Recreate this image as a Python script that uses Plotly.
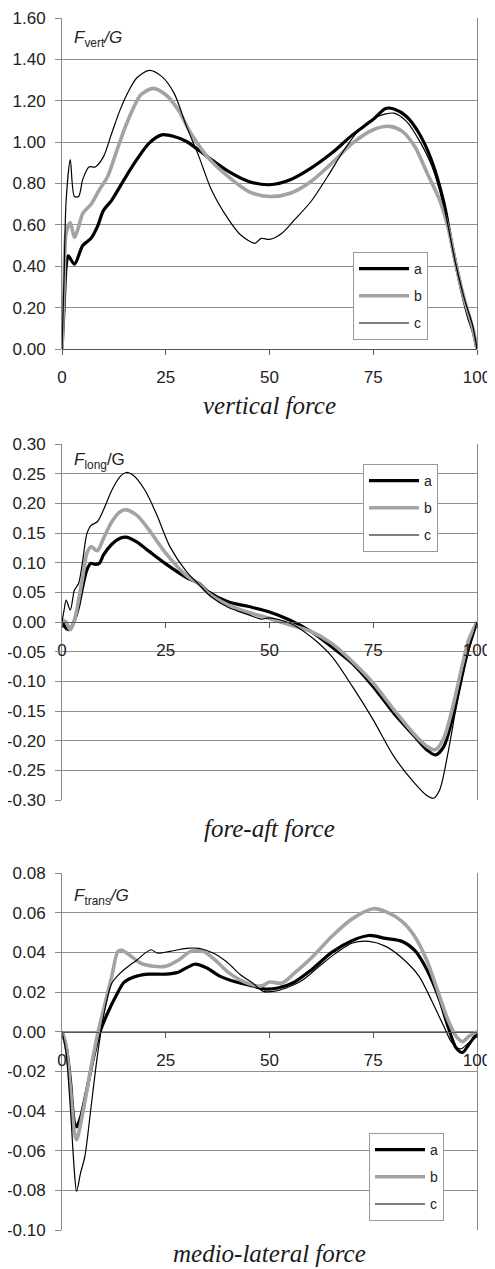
import plotly.graph_objects as go

# ---------------- data ----------------
x_ticks = [0, 25, 50, 75, 100]
x_tick_labels = ["0", "25", "50", "75", "100"]

# vertical force
vert_x_a = [0, 0.5, 1, 1.5, 3, 5, 7, 8.5, 10, 12, 15, 18, 21, 24, 27, 30, 35, 40, 45, 50, 55, 60, 65, 70, 75, 78, 80, 83, 86, 89, 92, 94, 96, 98, 99, 100]
vert_a = [0, 0.2, 0.40, 0.45, 0.41, 0.50, 0.535, 0.59, 0.67, 0.72, 0.82, 0.915, 0.995, 1.035, 1.027, 1.003, 0.93, 0.86, 0.81, 0.794, 0.818, 0.874, 0.947, 1.035, 1.11, 1.163, 1.16, 1.124, 1.044, 0.915, 0.71, 0.50, 0.31, 0.15, 0.09, 0]
vert_x_b = [0, 0.5, 1, 2, 3, 4, 5, 7, 9, 11, 13, 15, 17, 19, 22, 25, 28, 31, 35, 40, 45, 50, 55, 60, 65, 70, 75, 79, 82, 85, 88, 91, 93, 95, 97, 99, 100]
vert_b = [0, 0.3, 0.56, 0.61, 0.54, 0.59, 0.656, 0.70, 0.77, 0.834, 0.947, 1.06, 1.156, 1.229, 1.26, 1.229, 1.156, 1.044, 0.93, 0.834, 0.761, 0.737, 0.753, 0.81, 0.898, 0.995, 1.06, 1.076, 1.052, 0.979, 0.85, 0.72, 0.59, 0.40, 0.237, 0.1, 0]
vert_x_c = [0, 0.5, 1, 2, 3, 4, 5, 6.5, 8, 10, 12, 14, 16, 18, 21, 24, 27, 30, 33, 36, 40, 43, 46.5, 48, 50, 53, 56, 60, 64, 68, 72, 76, 80, 83, 86, 89, 92, 95, 97, 99, 100]
vert_c = [0, 0.35, 0.72, 0.915, 0.737, 0.737, 0.82, 0.88, 0.88, 0.93, 1.044, 1.156, 1.245, 1.31, 1.347, 1.318, 1.237, 1.076, 0.93, 0.77, 0.63, 0.552, 0.511, 0.535, 0.53, 0.56, 0.624, 0.713, 0.834, 0.963, 1.068, 1.124, 1.14, 1.10, 1.011, 0.89, 0.69, 0.40, 0.24, 0.11, 0]

# fore-aft force
long_x_a = [0, 1, 2, 3, 4, 5, 6, 7, 8, 9, 10, 12, 14, 15.5, 18, 21, 25, 30, 33, 35, 40, 45, 50, 55, 60, 65, 70, 75, 80, 85, 88, 90, 92, 94, 96, 98, 100]
long_a = [0.003, -0.011, -0.012, 0.003, 0.026, 0.06, 0.088, 0.099, 0.097, 0.099, 0.113, 0.131, 0.141, 0.143, 0.135, 0.119, 0.098, 0.075, 0.065, 0.052, 0.034, 0.026, 0.017, 0.003, -0.016, -0.042, -0.07, -0.109, -0.154, -0.193, -0.216, -0.224, -0.21, -0.165, -0.103, -0.042, 0]
long_x_b = [0, 1, 2, 3, 4, 5, 6, 7, 8.5, 10, 12, 14, 15.5, 18, 21, 25, 30, 33, 35, 40, 45, 50, 55, 60, 65, 70, 75, 80, 85, 88, 90, 92, 94, 96, 98, 100]
long_b = [0.003, 0, -0.013, 0.003, 0.037, 0.076, 0.116, 0.127, 0.12, 0.141, 0.169, 0.186, 0.189, 0.18, 0.155, 0.116, 0.078, 0.064, 0.05, 0.029, 0.016, 0.006, -0.005, -0.016, -0.036, -0.067, -0.103, -0.148, -0.19, -0.21, -0.215, -0.196, -0.148, -0.087, -0.03, 0]
long_x_c = [0, 0.5, 1, 2, 3, 4, 5, 6, 7, 8.5, 10, 12, 14, 15.5, 17, 20, 23, 26, 30, 33, 36, 40, 45, 48, 50, 55, 60, 65, 70, 75, 80, 85, 88, 89.5, 91, 93, 95, 97, 99, 100]
long_c = [0, 0.02, 0.037, 0.02, 0.054, 0.065, 0.104, 0.149, 0.163, 0.169, 0.189, 0.222, 0.245, 0.252, 0.248, 0.222, 0.178, 0.127, 0.085, 0.063, 0.042, 0.025, 0.012, 0.005, 0.007, -0.002, -0.025, -0.058, -0.109, -0.165, -0.227, -0.272, -0.293, -0.297, -0.283, -0.221, -0.143, -0.075, -0.025, 0]

# medio-lateral force
trans_x_a = [0, 1, 2, 3, 3.5, 4.5, 6, 7.5, 9, 11, 13, 15, 18, 21, 25, 28, 32, 35, 38, 42, 46, 49, 52, 56, 60, 65, 70, 74, 78, 82, 85, 88, 91, 93, 95, 96.5, 98, 100]
trans_a = [0, -0.0074, -0.024, -0.046, -0.048, -0.043, -0.029, -0.014, -0.001, 0.0094, 0.018, 0.025, 0.028, 0.029, 0.029, 0.030, 0.034, 0.032, 0.028, 0.025, 0.023, 0.0215, 0.022, 0.025, 0.031, 0.040, 0.046, 0.0485, 0.047, 0.0455, 0.041, 0.031, 0.016, 0.0027, -0.0083, -0.0105, -0.0066, -0.0007]
trans_x_b = [0, 1, 2, 3, 3.5, 5, 7, 8.5, 10, 12, 13.5, 14.5, 16, 19, 22, 25, 28, 31, 34, 37, 40, 44, 48, 50, 53, 56, 60, 65, 70, 75, 78, 82, 85, 88, 91, 93, 95, 96.5, 98, 100]
trans_b = [0, -0.0074, -0.028, -0.051, -0.0545, -0.041, -0.018, -0.002, 0.011, 0.028, 0.0405, 0.041, 0.039, 0.0345, 0.033, 0.033, 0.036, 0.0405, 0.0405, 0.036, 0.030, 0.025, 0.023, 0.025, 0.0245, 0.0295, 0.037, 0.048, 0.057, 0.062, 0.0605, 0.0555, 0.048, 0.0355, 0.0177, 0.006, -0.0024, -0.005, -0.0024, 0]
trans_x_c = [0, 1, 2, 3, 3.5, 4.5, 5.5, 7, 8.5, 10, 12, 14, 16, 18, 20, 21.5, 23, 26, 30, 33, 37, 40, 43, 46, 48.5, 51, 54, 58, 62, 66, 70, 74, 78, 82, 86, 89, 92, 94, 96, 98, 100]
trans_c = [0, -0.011, -0.038, -0.071, -0.0806, -0.071, -0.063, -0.038, -0.0126, 0.0077, 0.0244, 0.0295, 0.033, 0.036, 0.0396, 0.0413, 0.0396, 0.0405, 0.042, 0.042, 0.039, 0.0346, 0.0287, 0.0244, 0.0203, 0.0203, 0.022, 0.026, 0.033, 0.0396, 0.0447, 0.0455, 0.043, 0.037, 0.028, 0.016, 0.0027, -0.0057, -0.0087, -0.0057, -0.0024]

series_names = ["a", "b", "c"]
vert_ticks = [0.0, 0.2, 0.4, 0.6, 0.8, 1.0, 1.2, 1.4, 1.6]
long_ticks = [-0.30, -0.25, -0.20, -0.15, -0.10, -0.05, 0.0, 0.05, 0.10, 0.15, 0.20, 0.25, 0.30]
trans_ticks = [-0.10, -0.08, -0.06, -0.04, -0.02, 0.0, 0.02, 0.04, 0.06, 0.08]
panel_titles = ["vertical force", "fore-aft force", "medio-lateral force"]
panel_labels = ["<i>F</i><sub>vert</sub><i>/G</i>", "<i>F</i><sub>long</sub>/G", "<i>F</i><sub>trans</sub><i>/G</i>"]

# ---------------- layout helpers ----------------
# the page body has an 8px default margin, so the figure is sized to fit the window
OFF = 8
WIN_W, WIN_H = 495, 1269
W, H = WIN_W - OFF, WIN_H - OFF


def px_x(x):
    return (x - OFF) / W


def py(y):
    return 1 - (y - OFF) / H


X0, X1 = px_x(62), px_x(477)
styles = [dict(color="#000000", width=3.2), dict(color="#a3a3a3", width=3.6), dict(color="#000000", width=1.2)]
SANS = "Liberation Sans, Arial, sans-serif"
SERIF = "Liberation Serif, Times New Roman, serif"

panels = [
    dict(xs=[vert_x_a, vert_x_b, vert_x_c], ys=[vert_a, vert_b, vert_c], ticks=vert_ticks,
         top=18, bot=349, title_y=405, label_y=39, legend=(353, 252)),
    dict(xs=[long_x_a, long_x_b, long_x_c], ys=[long_a, long_b, long_c], ticks=long_ticks,
         top=444, bot=800, title_y=828, label_y=461, legend=(363, 464)),
    dict(xs=[trans_x_a, trans_x_b, trans_x_c], ys=[trans_a, trans_b, trans_c], ticks=trans_ticks,
         top=873, bot=1230, title_y=1253, label_y=897, legend=(369, 1133)),
]

fig = go.Figure()
annotations = []
for i, p in enumerate(panels):
    n = i + 1
    sfx = "" if n == 1 else str(n)
    leg = "legend" if n == 1 else f"legend{n}"
    for k in range(3):
        fig.add_trace(go.Scatter(
            x=p["xs"][k], y=p["ys"][k], mode="lines", name=series_names[k],
            line=dict(shape="spline", smoothing=0.8, **styles[k]),
            xaxis="x" + sfx, yaxis="y" + sfx, legend=leg,
            legendgroup=f"{series_names[k]}{n}", showlegend=True,
        ))
    ymin, ymax = min(p["ticks"]), max(p["ticks"])
    d0, d1 = py(p["bot"]), py(p["top"])
    zero_pos = d0 + (0 - ymin) / (ymax - ymin) * (d1 - d0)
    fig.layout["xaxis" + sfx] = dict(
        domain=[X0, X1], range=[0, 100], anchor="free", position=zero_pos,
        tickvals=x_ticks, ticktext=x_tick_labels, ticks="outside", ticklen=5,
        tickcolor="#555", showline=True, linecolor="#555", linewidth=1,
        showgrid=False, zeroline=False, ticklabelstandoff=8, automargin=False,
        tickfont=dict(family=SANS, size=17, color="#222"),
    )
    fig.layout["yaxis" + sfx] = dict(
        domain=[d0, d1], range=[ymin, ymax], anchor="x" + sfx,
        tickvals=p["ticks"], ticktext=[f"{v:.2f}" for v in p["ticks"]],
        ticks="outside", ticklen=6, tickcolor="#888", ticklabelstandoff=6,
        showline=True, mirror=True, linecolor="#8a8a8a", linewidth=1,
        showgrid=True, gridcolor="#8f8f8f", gridwidth=1, zeroline=False, automargin=False,
        tickfont=dict(family=SANS, size=17, color="#222"),
    )
    lx, ly = p["legend"]
    fig.layout[leg] = dict(
        x=px_x(lx), y=py(ly), xanchor="left", yanchor="top",
        bgcolor="white", bordercolor="#999", borderwidth=1,
        font=dict(family=SANS, size=14, color="#222"),
        tracegroupgap=6, itemwidth=50, traceorder="grouped",
    )
    annotations.append(dict(
        text="<i>" + panel_titles[i] + "</i>", x=(X0 + X1) / 2, y=py(p["title_y"]), xref="paper", yref="paper",
        xanchor="center", yanchor="middle", showarrow=False,
        font=dict(family=SERIF, size=25, color="#1a1a1a"),
    ))
    annotations.append(dict(
        text=panel_labels[i], x=px_x(72), y=py(p["label_y"]), xref="paper", yref="paper",
        xanchor="left", yanchor="middle", showarrow=False,
        font=dict(family=SANS, size=17, color="#222"),
    ))

fig.update_layout(
    width=W, height=H, margin=dict(l=0, r=0, t=0, b=0, autoexpand=False),
    paper_bgcolor="white", plot_bgcolor="white",
    annotations=annotations,
)

fig.write_html("out.html")
